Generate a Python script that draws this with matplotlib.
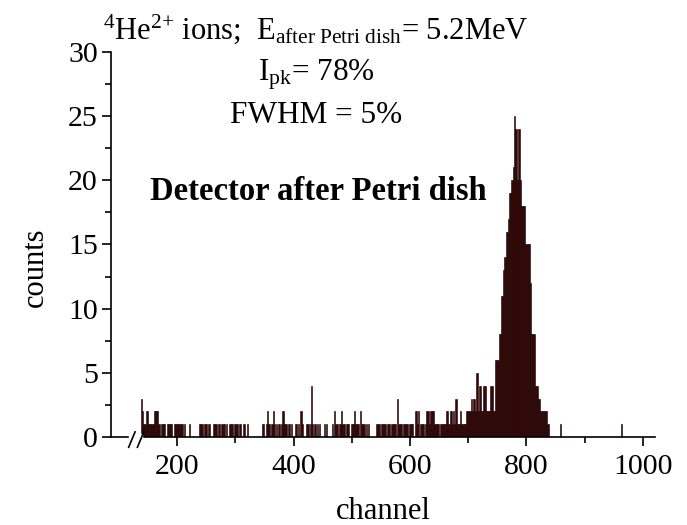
import matplotlib
matplotlib.use("Agg")
import matplotlib.pyplot as plt
from matplotlib.ticker import MultipleLocator, FixedLocator

plt.rcParams['font.family'] = ['Liberation Serif', 'DejaVu Serif']
plt.rcParams['mathtext.fontset'] = 'custom'
plt.rcParams['mathtext.rm'] = 'Liberation Serif'
plt.rcParams['mathtext.it'] = 'Liberation Serif:italic'
plt.rcParams['mathtext.bf'] = 'Liberation Serif:bold'

# background part of the spectrum (2-channel bins, start channel -> counts)
bg_channel = [138, 140, 142, 144, 146, 148, 150, 152, 154, 156, 158, 160, 162, 164, 166, 168,
              172, 174, 176, 178, 182, 184, 186, 188, 190, 194, 196, 198, 200, 202, 204, 206,
              208, 212, 220, 238, 240, 242, 246, 248, 250, 254, 262, 264, 266, 270, 272, 276,
              278, 280, 284, 290, 292, 294, 298, 300, 302, 306, 308, 314, 320, 346, 348, 352,
              354, 356, 358, 362, 364, 366, 370, 374, 378, 380, 382, 384, 386, 390, 392, 396,
              402, 404, 408, 412, 414, 422, 424, 428, 430, 432, 436, 440, 444, 452, 456, 466,
              470, 472, 474, 478, 480, 482, 484, 486, 490, 492, 494, 498, 500, 502, 504, 506,
              508, 510, 514, 516, 518, 520, 524, 528, 542, 544, 546, 550, 552, 554, 556, 560,
              562, 564, 568, 570, 572, 574, 578, 580, 582, 584, 588, 590, 592, 594, 598, 600,
              602, 604, 608, 610, 612, 614, 618, 620, 622, 626, 628, 630, 632, 634, 636, 638,
              640, 642, 644, 646, 648, 652, 654, 656, 658, 660, 662, 664, 666, 668, 670, 672,
              674, 676, 678, 680, 682, 684, 686, 688, 690, 692, 694, 696, 698, 700, 702, 704,
              706, 708, 710, 712, 714, 716, 718, 720, 722, 724, 726, 728, 730, 732, 734, 736,
              738, 740, 742, 858, 962]
bg_counts = [3, 2, 1, 1, 2, 2, 1, 1, 1, 1, 1, 2, 2, 2, 2, 1,
             1, 1, 1, 1, 1, 1, 1, 1, 1, 1, 1, 1, 1, 1, 1, 1,
             1, 1, 1, 1, 1, 1, 1, 1, 1, 1, 1, 1, 1, 1, 1, 1,
             1, 1, 1, 1, 1, 1, 1, 1, 1, 1, 1, 1, 1, 1, 1, 1,
             2, 1, 1, 1, 2, 1, 1, 1, 1, 2, 2, 1, 1, 1, 1, 1,
             1, 1, 1, 2, 1, 1, 1, 1, 4, 1, 1, 1, 1, 1, 1, 1,
             2, 1, 1, 1, 1, 2, 1, 1, 1, 1, 1, 1, 1, 1, 2, 1,
             1, 1, 2, 1, 1, 1, 1, 1, 1, 1, 1, 1, 1, 1, 1, 1,
             1, 1, 1, 1, 1, 1, 3, 1, 1, 1, 1, 1, 1, 1, 1, 1,
             1, 1, 2, 2, 1, 2, 1, 1, 1, 1, 2, 2, 1, 2, 2, 2,
             2, 1, 1, 1, 1, 1, 1, 1, 1, 1, 2, 2, 1, 2, 2, 1,
             2, 1, 3, 1, 1, 1, 2, 1, 1, 1, 1, 2, 2, 2, 2, 3,
             2, 3, 3, 2, 5, 2, 4, 4, 2, 2, 4, 4, 2, 2, 2, 2,
             4, 4, 2, 1, 1]

# alpha peak (2-channel bins)
peak_channel = [744, 746, 748, 750, 752, 754, 756, 758, 760, 762, 764, 766, 768, 770, 772, 774,
                776, 778, 780, 782, 784, 786, 788, 790, 792, 794, 796, 798, 800, 802, 804, 806,
                808, 810, 812, 814, 816, 818, 820, 822, 824, 826, 828, 830, 832, 834, 836]
peak_counts = [2, 6, 6, 6, 8, 8, 11, 11, 13, 14, 16, 16, 17, 19, 19, 20,
               21, 25, 24, 24, 20, 24, 20, 18, 18, 18, 18, 15, 15, 15, 15, 12,
               8, 8, 8, 4, 4, 4, 3, 3, 2, 2, 2, 2, 2, 2, 1]

fig = plt.figure(figsize=(6.87, 5.25), dpi=100)
ax = fig.add_axes([0.1616, 0.1676, 0.7918, 0.7334])

bar_kw = dict(width=2, align='edge', color='#420000', edgecolor='#150000', linewidth=0.4)
ax.bar(bg_channel, bg_counts, **bar_kw)
ax.bar(peak_channel, peak_counts, **bar_kw)

ax.set_xlim(86.7, 1020.6)
ax.set_ylim(0, 30)
ax.spines['top'].set_visible(False)
ax.spines['right'].set_visible(False)
for s in ['left', 'bottom']:
    ax.spines[s].set_linewidth(1.2)

ax.xaxis.set_major_locator(FixedLocator([200, 400, 600, 800, 1000]))
ax.xaxis.set_minor_locator(FixedLocator([300, 500, 700, 900]))
ax.yaxis.set_major_locator(MultipleLocator(5))
ax.yaxis.set_minor_locator(MultipleLocator(2.5))
ax.tick_params(which='major', direction='out', length=6.5, width=1.2, labelsize=21.5)
ax.tick_params(axis='x', which='major', pad=6)
ax.tick_params(axis='y', which='major', pad=3)
ax.tick_params(which='minor', direction='out', length=4, width=1.2)

ax.set_xlabel('channel', fontsize=22, labelpad=12)
ax.set_ylabel('counts', fontsize=22)
ax.yaxis.set_label_coords(-0.113, 0.44)

# axis break marks
ax.fill_between([118, 140], -0.25, 0.25, color='white', clip_on=False, zorder=3)
for x0 in [117, 132]:
    ax.plot([x0, x0 + 11], [-0.8, 0.4], color='black', lw=1.2, clip_on=False, zorder=4)

xc = 316 / 687
fig.text(xc, 1 - 39 / 525, r'$^{4}$He$^{2{+}}$ ions;  E$_{\mathrm{after\ Petri\ dish}}$= 5.2MeV',
         fontsize=22, ha='center', va='baseline')
fig.text(xc, 1 - 81 / 525, r'I$_{\mathrm{pk}}$= 78%', fontsize=22.5, ha='center', va='baseline')
fig.text(xc, 1 - 123 / 525, 'FWHM = 5%', fontsize=22.5, ha='center', va='baseline')
fig.text(318 / 687, 1 - 200 / 525, 'Detector after Petri dish', fontsize=23.5,
         fontweight='bold', ha='center', va='baseline')

fig.savefig('out.png', dpi=100)
